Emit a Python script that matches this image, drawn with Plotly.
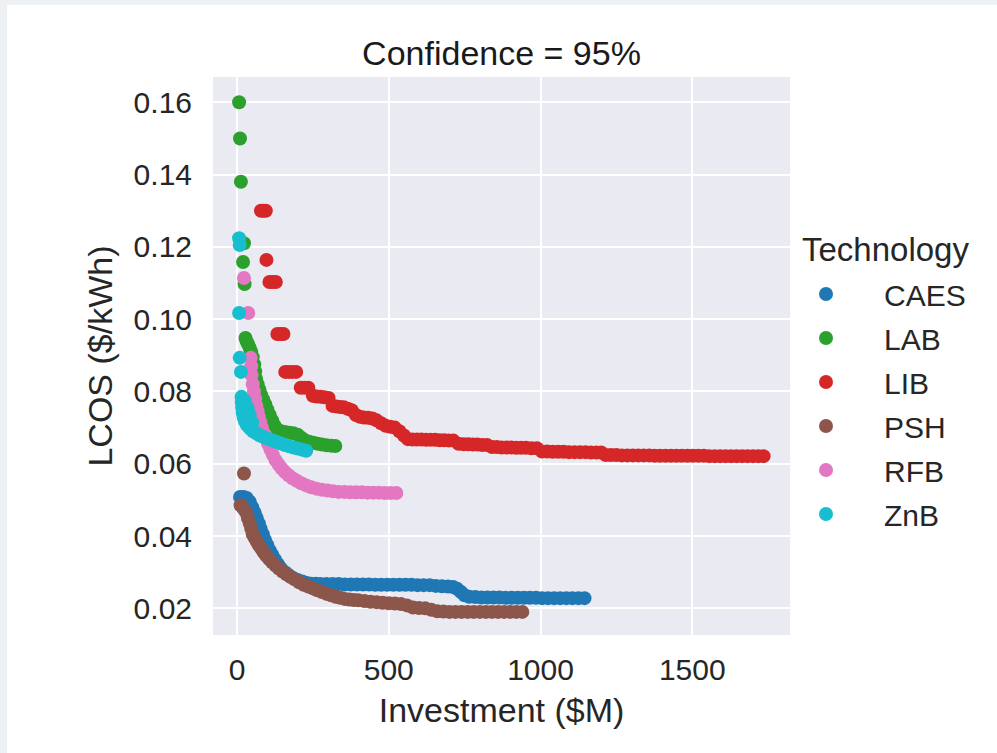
import plotly.graph_objects as go

# ---------------- data ----------------
technologies = ["CAES", "LAB", "LIB", "PSH", "RFB", "ZnB"]
colors = ["#1f77b4", "#2ca02c", "#d62728", "#8c564b", "#e377c2", "#17becf"]

caes_x = [10, 22, 32, 42, 50, 58, 65, 72, 78, 85, 92, 100, 108, 116, 125, 135, 145, 158, 170, 185,
          200, 215, 230, 245, 260, 275, 295, 315, 335, 355, 375, 395, 415, 435, 455, 475, 495, 515,
          535, 555, 575, 595, 615, 635, 655, 675, 695, 712, 725, 738, 750, 765, 785, 805, 825, 845,
          865, 885, 905, 925, 945, 965, 985, 1005, 1025, 1045, 1065, 1085, 1105, 1125, 1145]
caes_y = [0.0508, 0.0508, 0.0505, 0.0495, 0.048, 0.0465, 0.045, 0.0435, 0.042, 0.0405, 0.039, 0.0375,
          0.036, 0.0348, 0.0335, 0.0322, 0.031, 0.030, 0.0292, 0.0284, 0.0278, 0.0274, 0.0270, 0.0268,
          0.0268, 0.0267, 0.0267, 0.0267, 0.0267, 0.0266, 0.0266, 0.0266, 0.0266, 0.0266, 0.0265,
          0.0265, 0.0265, 0.0265, 0.0265, 0.0265, 0.0265, 0.0264, 0.0264, 0.0264, 0.0262, 0.0261,
          0.0260, 0.0259, 0.0254, 0.0245, 0.0236, 0.0232, 0.0231, 0.0230, 0.0230, 0.0230, 0.0230,
          0.0229, 0.0229, 0.0229, 0.0229, 0.0229, 0.0229, 0.0228, 0.0228, 0.0228, 0.0228, 0.0228,
          0.0228, 0.0228, 0.0228]

lab_x = [7, 10, 13, 23, 20, 25, 28, 32, 37, 42, 47, 52, 57, 60, 63, 68, 74, 80, 86, 93, 100, 108,
         116, 124, 133, 145, 158, 172, 186, 200, 212, 224, 238, 252, 266, 280, 295, 310, 324]
lab_y = [0.160, 0.150, 0.138, 0.121, 0.1158, 0.1097, 0.0948, 0.0938, 0.093, 0.092, 0.091, 0.0895,
         0.0875, 0.0855, 0.0835, 0.082, 0.0805, 0.079, 0.0778, 0.0765, 0.075, 0.0735, 0.072, 0.0705,
         0.0695, 0.069, 0.0688, 0.0686, 0.0684, 0.068, 0.0672, 0.0665, 0.0661, 0.0658, 0.0655,
         0.0653, 0.0651, 0.065, 0.0649]

lib_x = [79, 87, 95, 97, 107, 117, 128, 133, 143, 153, 159, 170, 182, 195, 210, 222, 235, 250, 262,
         275, 288, 302, 315, 328, 340, 352, 365, 378, 392, 405, 418, 432, 446, 460, 475, 490, 505,
         520, 535, 550, 563, 578, 593, 608, 623, 638, 653, 668, 683, 698, 713, 730, 747, 762, 777,
         792, 808, 824, 840, 856, 872, 888, 904, 920, 936, 952, 970, 988, 1005, 1022, 1040, 1058,
         1076, 1094, 1112, 1130, 1148, 1166, 1184, 1200, 1215, 1232, 1250, 1268, 1286, 1304, 1322,
         1340, 1358, 1376, 1394, 1412, 1430, 1448, 1466, 1484, 1502, 1520, 1538, 1556, 1574, 1592,
         1610, 1628, 1646, 1664, 1682, 1700, 1718, 1735]
lib_y = [0.130, 0.130, 0.130, 0.1164, 0.1103, 0.1103, 0.1103, 0.0959, 0.0959, 0.0959, 0.0854,
         0.0854, 0.0854, 0.0854, 0.081, 0.081, 0.081, 0.0788, 0.0786, 0.0785, 0.0784, 0.0782, 0.076,
         0.0758, 0.0757, 0.0756, 0.0752, 0.0748, 0.0735, 0.073, 0.0728, 0.0727, 0.0725, 0.072,
         0.0712, 0.0705, 0.0702, 0.070, 0.069, 0.0678, 0.0668, 0.0667, 0.0667, 0.0667, 0.0666,
         0.0666, 0.0666, 0.0665, 0.0665, 0.0664, 0.0664, 0.0655, 0.0654, 0.0654, 0.0653, 0.0653,
         0.0652, 0.0652, 0.0646, 0.0646, 0.0645, 0.0645, 0.0645, 0.0644, 0.0644, 0.0644, 0.0643,
         0.0643, 0.0634, 0.0634, 0.0633, 0.0633, 0.0633, 0.0632, 0.0632, 0.0632, 0.0632, 0.0631,
         0.0631, 0.0631, 0.0624, 0.0624, 0.0624, 0.0623, 0.0623, 0.0623, 0.0623, 0.0623, 0.0623,
         0.0622, 0.0622, 0.0622, 0.0622, 0.0622, 0.0622, 0.0622, 0.0622, 0.0622, 0.0622, 0.0621,
         0.0621, 0.0621, 0.0621, 0.0621, 0.0621, 0.0621, 0.0621, 0.0621, 0.0621, 0.0621, 0.0621]

psh_x = [23, 12, 22, 30, 36, 42, 47, 52, 58, 65, 72, 80, 88, 97, 106, 116, 127, 138, 150, 163, 176,
         190, 205, 220, 235, 250, 265, 280, 295, 310, 325, 340, 355, 370, 385, 400, 420, 440, 460,
         480, 500, 520, 540, 560, 580, 600, 620, 640, 660, 680, 700, 720, 740, 760, 780, 800, 820,
         840, 860, 880, 900, 920, 940]
psh_y = [0.0573, 0.0485, 0.0475, 0.0465, 0.045, 0.0435, 0.042, 0.0405, 0.0395, 0.0385, 0.0375,
         0.0365, 0.0355, 0.0345, 0.0336, 0.0327, 0.0318, 0.031, 0.0302, 0.0294, 0.0287, 0.028,
         0.0272, 0.0265, 0.026, 0.0255, 0.025, 0.0245, 0.024, 0.0236, 0.0232, 0.0229, 0.0226,
         0.0224, 0.0223, 0.0222, 0.022, 0.0218, 0.0217, 0.0215, 0.0214, 0.0213, 0.0212, 0.0208,
         0.0202, 0.0201, 0.020, 0.0196, 0.0192, 0.0191, 0.019, 0.019, 0.019, 0.019, 0.019, 0.019,
         0.019, 0.019, 0.019, 0.019, 0.019, 0.019, 0.019]

rfb_x = [23, 37, 45, 47, 48, 52, 56, 60, 64, 68, 72, 77, 82, 88, 95, 102, 110, 118, 127, 137, 147,
         158, 170, 183, 197, 212, 228, 245, 262, 280, 298, 316, 335, 354, 373, 392, 411, 430, 449,
         468, 487, 506, 525]
rfb_y = [0.1114, 0.1017, 0.0893, 0.087, 0.0845, 0.082, 0.080, 0.078, 0.076, 0.0745, 0.073, 0.0715,
         0.070, 0.0685, 0.067, 0.0655, 0.064, 0.0625, 0.061, 0.0598, 0.0587, 0.0577, 0.0568, 0.056,
         0.0553, 0.0546, 0.054, 0.0535, 0.0531, 0.0528, 0.0526, 0.0524, 0.0522, 0.0522, 0.0521,
         0.0521, 0.0521, 0.052, 0.052, 0.052, 0.0519, 0.0519, 0.0519]

znb_x = [7, 9, 7, 9, 13, 15, 16, 17, 19, 22, 26, 25, 35, 42, 50, 32, 38, 45, 53, 62, 72, 82, 93,
         105, 118, 131, 145, 158, 172, 186, 200, 214, 228]
znb_y = [0.1224, 0.1205, 0.1017, 0.0893, 0.0854, 0.0785, 0.077, 0.0755, 0.074, 0.0728, 0.0718,
         0.0775, 0.0755, 0.0735, 0.0715, 0.0708, 0.0702, 0.0696, 0.069, 0.0685, 0.068, 0.0676,
         0.0672, 0.0668, 0.0664, 0.066, 0.0656, 0.0652, 0.0648, 0.0645, 0.0642, 0.0639, 0.0636]

x_ticks = [0, 500, 1000, 1500]
x_tick_labels = ["0", "500", "1000", "1500"]
y_ticks = [0.02, 0.04, 0.06, 0.08, 0.10, 0.12, 0.14, 0.16]
y_tick_labels = ["0.02", "0.04", "0.06", "0.08", "0.10", "0.12", "0.14", "0.16"]

series_x = [caes_x, lab_x, lib_x, psh_x, rfb_x, znb_x]
series_y = [caes_y, lab_y, lib_y, psh_y, rfb_y, znb_y]

# ---------------- figure ----------------
FONT = "Liberation Sans, Arial, sans-serif"
TXT = "#262626"

fig = go.Figure()
for name, col, xs, ys in zip(technologies, colors, series_x, series_y):
    fig.add_trace(go.Scatter(
        x=xs, y=ys, mode="markers", name=name, legendgroup=name,
        marker=dict(color=col, size=14, line=dict(width=0)),
    ))

W, H = 997, 753
L, R, T, B = 213, 207, 77, 118
pw, ph = W - L - R, H - T - B

fig.update_layout(
    width=W, height=H,
    margin=dict(l=L, r=R, t=T, b=B, autoexpand=False),
    paper_bgcolor="white",
    plot_bgcolor="#EAEAF2",
    font=dict(family=FONT, color=TXT),
    title=dict(text="Confidence = 95%", x=0.5, xref="paper", xanchor="center",
               y=1 - 53 / H, yref="container", yanchor="middle",
               font=dict(size=34, color="#1a1a1a", family=FONT)),
    xaxis=dict(range=[-79, 1822], tickvals=x_ticks, ticktext=x_tick_labels,
               showgrid=True, gridcolor="white", gridwidth=2, zeroline=False,
               showline=False, ticks="", ticklabelstandoff=14,
               tickfont=dict(size=30, color=TXT, family=FONT),
               title=dict(text="Investment ($M)", standoff=13,
                          font=dict(size=34, color=TXT, family=FONT))),
    yaxis=dict(range=[0.01261, 0.1670], tickvals=y_ticks, ticktext=y_tick_labels,
               showgrid=True, gridcolor="white", gridwidth=2, zeroline=False,
               showline=False, ticks="", ticklabelstandoff=20,
               tickfont=dict(size=30, color=TXT, family=FONT),
               title=dict(text="LCOS ($/kWh)", standoff=10,
                          font=dict(size=34, color=TXT, family=FONT))),
    legend=dict(font=dict(size=30, color=TXT, family=FONT),
                x=(768 - L) / pw, xanchor="left",
                y=(H - B - 268) / ph, yanchor="top",
                bgcolor="rgba(0,0,0,0)", itemwidth=106, tracegroupgap=2),
    showlegend=True,
)

# legend heading
fig.add_annotation(text="Technology", xref="paper", yref="paper",
                   x=(800 - L) / pw, xanchor="left", y=(H - B - 249) / ph, yanchor="middle",
                   showarrow=False, font=dict(size=33, color=TXT, family=FONT))

# light grey frame of the screenshot (outside the plotting area)
frame = "#EDF1F4"
fig.add_shape(type="rect", xref="paper", yref="paper",
              x0=(0 - L) / pw, x1=(7 - L) / pw, y0=(H - B - H) / ph, y1=(H - B) / ph,
              fillcolor=frame, line=dict(width=0), layer="above")
fig.add_shape(type="rect", xref="paper", yref="paper",
              x0=(0 - L) / pw, x1=(W - L) / pw, y0=(H - B - 5) / ph, y1=(H - B) / ph,
              fillcolor=frame, line=dict(width=0), layer="above")

fig.write_html("out.html", config={"displayModeBar": False},
               post_script="document.body.style.margin='0';document.body.style.overflow='hidden';")
